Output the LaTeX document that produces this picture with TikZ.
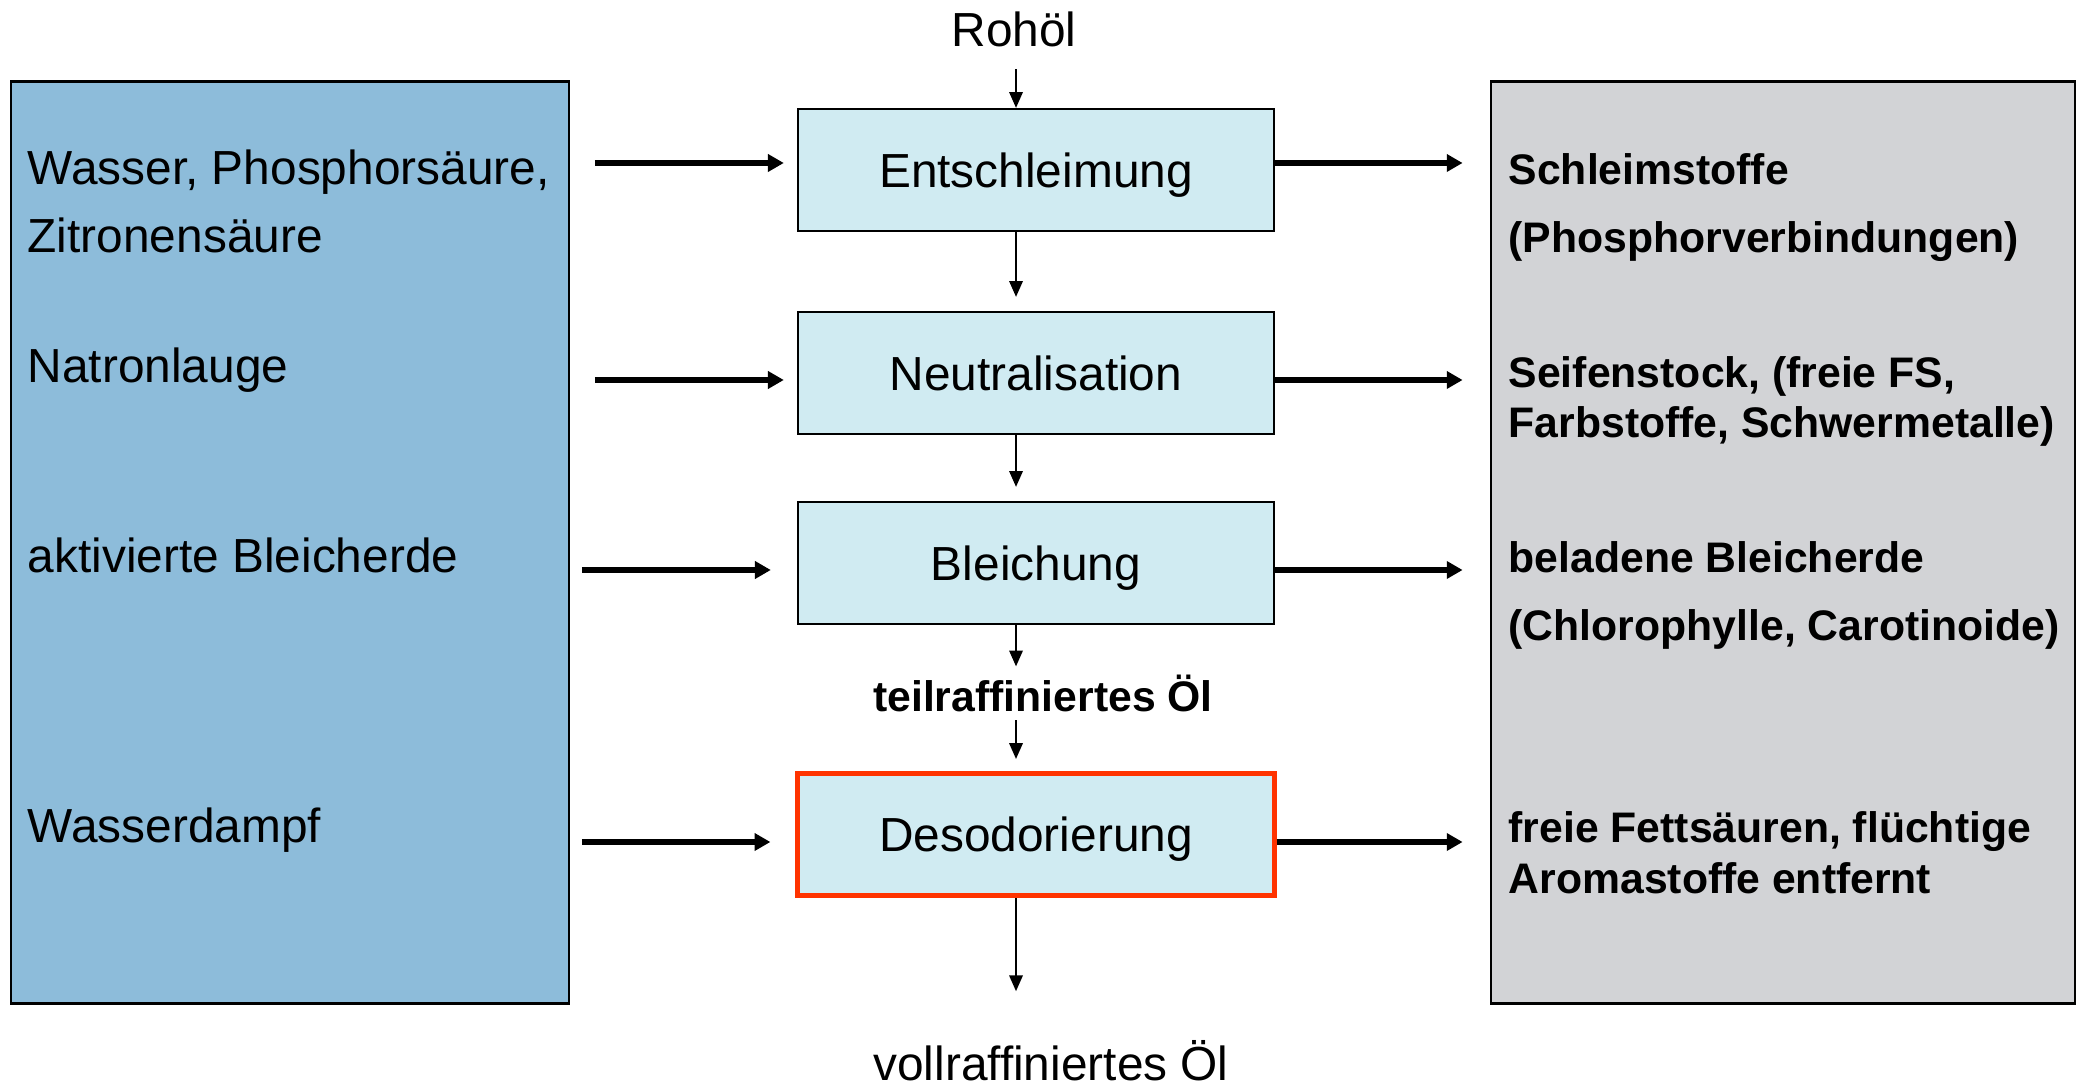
\documentclass[tikz,border=0pt]{standalone}
\usepackage{fontspec}
\setmainfont{Liberation Sans}
\usetikzlibrary{arrows.meta}

\definecolor{feedblue}{RGB}{141,188,218}
\definecolor{wastegray}{RGB}{210,211,214}
\definecolor{stagecyan}{RGB}{208,235,242}
\definecolor{hotred}{RGB}{255,51,0}

\begin{document}
\begin{tikzpicture}[x=0.01cm, y=-0.01cm,
  stage/.style={draw, line width=0.6pt, fill=stagecyan, minimum width=4.76cm, minimum height=1.22cm,
    inner sep=0pt, text depth=0pt, font=\fontsize{13.6}{16}\selectfont},
  sidebox/.style={draw, line width=0.7pt, minimum height=9.21cm, inner sep=0pt},
  intext/.style={anchor=base west, inner sep=0pt, font=\fontsize{13.6}{16}\selectfont},
  outtext/.style={anchor=base west, inner sep=0pt, font=\fontsize{12.15}{15}\selectfont\bfseries},
  feedarrow/.style={line width=1.5pt, -{Triangle[length=4.5pt, width=4.8pt]}},
  flowarrow/.style={line width=0.6pt, -{Triangle[length=4.5pt, width=3.8pt]}}]
  \useasboundingbox (0,0) rectangle (2083,1086);

  % Zufuhr links, Abtrennung rechts
  \node[sidebox, fill=feedblue, minimum width=5.58cm] (feed) at (290,542.5) {};
  \node[sidebox, fill=wastegray, minimum width=5.84cm] (waste) at (1783,542.5) {};

  % Raffinationsstufen
  \node[stage] (ent) at (1036,170) {Entschleimung};
  \node[stage] (neu) at (1036,373) {Neutralisation};
  \node[stage] (ble) at (1036,563) {Bleichung};
  \node[stage, draw=hotred, line width=1.4pt] (des) at (1036,834.5) {Desodorierung};

  \node[intext, anchor=base] (roh) at (1014,47) {Rohöl};
  \node[outtext, anchor=base] (teil) at (1043,711) {teilraffiniertes Öl};
  \node[intext, anchor=base] (voll) at (1051,1080) {vollraffiniertes Öl};

  % Oelstrom
  \coordinate (axis) at (1016,0);
  \draw[flowarrow, shorten <=0.21cm] (roh.south -| axis) -- (ent.north -| axis);
  \draw[flowarrow, shorten >=0.14cm] (ent.south -| axis) -- (neu.north -| axis);
  \draw[flowarrow, shorten >=0.14cm] (neu.south -| axis) -- (ble.north -| axis);
  \draw[flowarrow, shorten >=0.074cm] (ble.south -| axis) -- (teil.north -| axis);
  \draw[flowarrow, shorten <=0.08cm, shorten >=0.12cm] (teil.south -| axis) -- (des.north -| axis);
  \draw[flowarrow, shorten >=0.48cm] (des.south -| axis) -- (voll.north -| axis);

  % Zugaben
  \node[intext] (wasser) at (27,185) {Wasser, Phosphorsäure,};
  \node[intext] (zitro) at (27,253) {Zitronensäure};
  \node[intext] (natron) at (27,383) {Natronlauge};
  \node[intext] (erde) at (27,573) {aktivierte Bleicherde};
  \node[intext] (dampf) at (27,842) {Wasserdampf};

  % Abgetrenntes
  \node[outtext] (schleim) at (1508,185) {Schleimstoffe};
  \node[outtext] (phos) at (1508,253) {(Phosphorverbindungen)};
  \node[outtext] (seife) at (1508,388) {Seifenstock, (freie FS,};
  \node[outtext] (farb) at (1508,438) {Farbstoffe, Schwermetalle)};
  \node[outtext] (belad) at (1508,573) {beladene Bleicherde};
  \node[outtext] (chloro) at (1508,640) {(Chlorophylle, Carotinoide)};
  \node[outtext] (fs) at (1508,842) {freie Fettsäuren, flüchtige};
  \node[outtext] (aroma) at (1508,893) {Aromastoffe entfernt};

  \coordinate (row1) at (0,163);
  \coordinate (row2) at (0,380);
  \coordinate (row3) at (0,570);
  \coordinate (row4) at (0,842);

  \draw[feedarrow, shorten <=0.245cm, shorten >=0.13cm] (feed.east |- row1) -- (ent.west |- row1);
  \draw[feedarrow, shorten <=0.245cm, shorten >=0.13cm] (feed.east |- row2) -- (neu.west |- row2);
  \draw[feedarrow, shorten <=0.115cm, shorten >=0.26cm] (feed.east |- row3) -- (ble.west |- row3);
  \draw[feedarrow, shorten <=0.115cm, shorten >=0.25cm] (feed.east |- row4) -- (des.west |- row4);

  \draw[feedarrow, shorten >=0.27cm] (ent.east |- row1) -- (waste.west |- row1);
  \draw[feedarrow, shorten >=0.27cm] (neu.east |- row2) -- (waste.west |- row2);
  \draw[feedarrow, shorten >=0.27cm] (ble.east |- row3) -- (waste.west |- row3);
  \draw[feedarrow, shorten >=0.27cm] (des.east |- row4) -- (waste.west |- row4);
\end{tikzpicture}
\end{document}
